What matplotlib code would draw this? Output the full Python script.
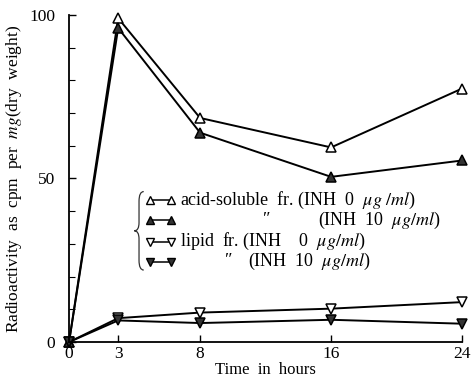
import numpy as np
import matplotlib.pyplot as plt
from matplotlib.lines import Line2D
from matplotlib.path import Path
from matplotlib.patches import PathPatch

plt.rcParams['font.family'] = ['Liberation Serif', 'DejaVu Serif']
plt.rcParams['mathtext.fontset'] = 'stix'

# Data
hours = [0, 3, 8, 16, 24]
acid_inh0 = [0, 99, 68.5, 59.5, 77.5]
acid_inh10 = [0, 96, 64, 50.5, 55.5]
lipid_inh0 = [0, 7.3, 9.0, 10.2, 12.2]
lipid_inh10 = [0, 6.6, 5.8, 6.8, 5.6]

x_ticks = [0, 3, 8, 16, 24]
y_ticks = [0, 50, 100]

fig = plt.figure(figsize=(4.73, 3.83), dpi=100)
ax = fig.add_axes([0.146, 0.107, 0.831, 0.854])

kw = dict(color='black', lw=1.4, ms=7, mew=1.1, clip_on=False)
ax.plot(hours, acid_inh0, marker='^', mfc='white', **kw)
ax.plot(hours, acid_inh10, marker='^', mfc='#333333', **kw)
ax.plot(hours, lipid_inh0, marker='v', mfc='white', **kw)
ax.plot(hours, lipid_inh10, marker='v', mfc='#333333', **kw)

ax.set_xlim(0, 24)
ax.set_ylim(0, 100)
ax.set_xticks(x_ticks)
ax.set_yticks(y_ticks)
ax.set_yticks(np.arange(0, 101, 10), minor=True)
ax.tick_params(direction='in', length=5, width=1, labelsize=12.5)
ax.tick_params(axis='y', which='minor', direction='in', length=4, width=0.8)
ax.tick_params(axis='x', pad=3)
ax.tick_params(axis='y', pad=10)
for s in ['top', 'right']:
    ax.spines[s].set_visible(False)
for s in ['left', 'bottom']:
    ax.spines[s].set_linewidth(1.3)

ax.set_xlabel('Time  in  hours', fontsize=12, labelpad=0)
ax.set_ylabel('Radioactivity  as  cpm  per  $\\it{mg}$(dry  weight)', fontsize=12.5, labelpad=4)

# Legend (drawn by hand to keep the ditto-mark layout)
markers = ['^', '^', 'v', 'v']
faces = ['white', '#333333', 'white', '#333333']
ys = [0.434, 0.373, 0.306, 0.245]
for m, fc, y in zip(markers, faces, ys):
    ax.add_line(Line2D([0.205, 0.26], [y, y], transform=ax.transAxes, color='black',
                       lw=1.1, marker=m, mfc=fc, ms=6, mew=1))
fs = 13
ax.text(0.283, ys[0], 'acid-soluble  fr. (INH  0  $\\mu g\\ /ml$)', transform=ax.transAxes,
        fontsize=fs, va='center')
ax.text(0.49, ys[1], '\u2033', transform=ax.transAxes, fontsize=fs, va='center')
ax.text(0.634, ys[1], '(INH  10  $\\mu g/ml$)', transform=ax.transAxes, fontsize=fs, va='center')
ax.text(0.283, ys[2], 'lipid  fr. (INH    0  $\\mu g/ml$)', transform=ax.transAxes,
        fontsize=fs, va='center')
ax.text(0.395, ys[3], '\u2033', transform=ax.transAxes, fontsize=fs, va='center')
ax.text(0.455, ys[3], '(INH  10  $\\mu g/ml$)', transform=ax.transAxes, fontsize=fs, va='center')

# thin curly brace
bx, bw, ytop, ybot = 0.178, 0.012, 0.46, 0.22
ymid = (ytop + ybot) / 2
verts = [(bx + bw, ytop), (bx, ytop), (bx, ytop - 0.03),
         (bx, ymid + 0.025),
         (bx, ymid), (bx - bw, ymid),
         (bx, ymid), (bx, ymid - 0.025),
         (bx, ybot + 0.03),
         (bx, ybot), (bx + bw, ybot)]
codes = [Path.MOVETO, Path.CURVE3, Path.CURVE3, Path.LINETO,
         Path.CURVE3, Path.CURVE3, Path.CURVE3, Path.CURVE3,
         Path.LINETO, Path.CURVE3, Path.CURVE3]
ax.add_patch(PathPatch(Path(verts, codes), transform=ax.transAxes, fill=False,
                       lw=0.9, edgecolor='#333333'))

fig.savefig('out.png', dpi=100)
